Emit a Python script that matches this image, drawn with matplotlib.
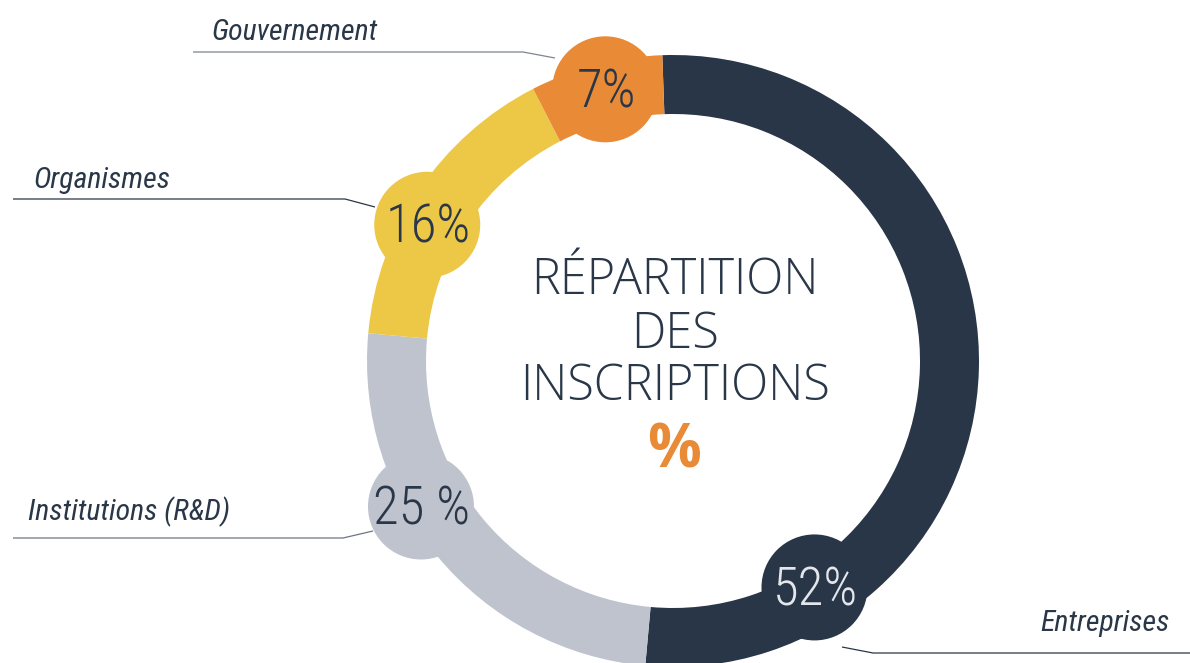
import numpy as np
import matplotlib.pyplot as plt
from matplotlib.patches import Circle

# Data
categories = ['Entreprises', 'Institutions (R&D)', 'Organismes', 'Gouvernement']
shares = [52, 25, 16, 7]
share_labels = ['52%', '25 %', '16%', '7%']
title_lines = ['RÉPARTITION', 'DES', 'INSCRIPTIONS']

# Style
colors = ['#283647', '#bfc3ce', '#ecc846', '#e88a36']
num_colors = ['#e3e6eb', '#2a3748', '#2a3748', '#2a3748']
navy = '#2a3748'
narrow = ['Roboto Condensed', 'DejaVu Sans']

W, H = 1190, 663
fig = plt.figure(figsize=(W / 100, H / 100), dpi=100)
ax = fig.add_axes([0, 0, 1, 1])

# ring (axes units == pixels, y up)
cx, cy = 673, H - 361
R, ring_w = 306, 59
ax.pie(shares, colors=colors, startangle=92, counterclock=False,
       radius=R, center=(cx, cy), frame=False,
       wedgeprops=dict(width=ring_w, linewidth=0))
ax.set_xlim(0, W)
ax.set_ylim(0, H)
ax.set_aspect('equal')
ax.axis('off')

# value badges: angle clockwise from top, distance from centre
badge_ang = [148, 240, 299, 346]
badge_dist = [267, 291, 281, 280]
badge_r = 53
for lab, col, tcol, a, d in zip(share_labels, colors, num_colors, badge_ang, badge_dist):
    bx = cx + d * np.sin(np.radians(a))
    by = cy + d * np.cos(np.radians(a))
    ax.add_patch(Circle((bx, by), badge_r, facecolor=col, lw=0, zorder=3))
    ax.text(bx + 1, by - 18, lab, ha='center', va='baseline', fontsize=38,
            family=narrow, fontweight=300, color=tcol, zorder=4)

# category labels with leader lines
label_xy = [(1170, 32), (28, 143), (33, 475), (211, 623)]
label_ha = ['right', 'left', 'left', 'left']
leaders = [
    [(842, H - 647), (873, H - 653), (1190, H - 653)],
    [(13, H - 538), (343, H - 538), (373, H - 531)],
    [(13, H - 199), (345, H - 199), (375, H - 207)],
    [(193, H - 52), (523, H - 52), (555, H - 58)],
]
leader_cols = [navy, '#6d7583', navy, '#7d8590']
for name, (tx, ty), ha, pts, lc in zip(categories, label_xy, label_ha, leaders, leader_cols):
    ax.text(tx, ty, name, ha=ha, va='baseline', fontsize=21.5, style='italic',
            family=narrow, fontweight=400, color=navy)
    xs, ys = zip(*pts)
    ax.plot(xs, ys, color=lc, lw=0.9, solid_capstyle='butt')

# centre title
for line, y in zip(title_lines, [369, 315, 263]):
    ax.text(675, y, line, ha='center', va='baseline', fontsize=35,
            family='Open Sans', fontweight=300, fontstretch='normal', color=navy)
ax.text(674, 195, '%', ha='center', va='baseline', fontsize=43,
        family='Open Sans', fontweight='bold', color='#e88a36')

fig.savefig('out.png', dpi=100)
